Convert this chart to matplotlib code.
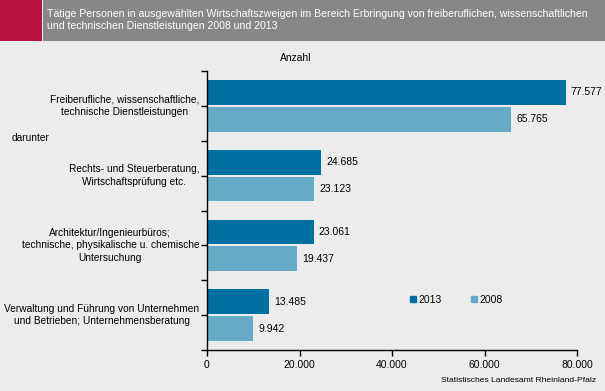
import matplotlib
matplotlib.use("Agg")
import matplotlib.pyplot as plt
from matplotlib.patches import Rectangle
from matplotlib.lines import Line2D

plt.rcParams['font.family'] = ['Liberation Sans', 'DejaVu Sans']

categories = [
    "Freiberufliche, wissenschaftliche,\ntechnische Dienstleistungen",
    "Rechts- und Steuerberatung,\nWirtschaftsprüfung etc.",
    "Architektur/Ingenieurbüros;\ntechnische, physikalische u. chemische\nUntersuchung",
    "Verwaltung und Führung von Unternehmen\nund Betrieben; Unternehmensberatung",
]
values_2013 = [77577, 24685, 23061, 13485]
values_2008 = [65765, 23123, 19437, 9942]
series_labels = ["2013", "2008"]
xticks = [0, 20000, 40000, 60000, 80000]
xtick_labels = ["0", "20.000", "40.000", "60.000", "80.000"]
title = ("Tätige Personen in ausgewählten Wirtschaftszweigen im Bereich Erbringung von freiberuflichen, wissenschaftlichen\n"
         "und technischen Dienstleistungen 2008 und 2013")
unit = "Anzahl"
source = "Statistisches Landesamt Rheinland-Pfalz"

c2013 = "#0070a2"
c2008 = "#67aac8"
bg = "#ececec"

W, H = 605, 391
fig = plt.figure(figsize=(W / 100, H / 100), dpi=100)
fig.patch.set_facecolor(bg)

# header band
fig.add_artist(Rectangle((0, 1 - 41 / H), 42 / W, 41 / H, transform=fig.transFigure,
                         facecolor="#b5123f", edgecolor="none"))
fig.add_artist(Rectangle((43 / W, 1 - 41 / H), 1 - 43 / W, 41 / H, transform=fig.transFigure,
                         facecolor="#878787", edgecolor="none"))
fig.text(47 / W, 1 - 20 / H, title, color="white", fontsize=7.6, ha="left", va="center",
         linespacing=1.25)

left, right = 207 / W, 577 / W
bottom, top = 1 - 350 / H, 1 - 71 / H
ax = fig.add_axes([left, bottom, right - left, top - bottom])
ax.set_facecolor("none")

fmt = lambda v: f"{v:,}".replace(",", ".")
bh = 0.71
off = 0.386
for i, (a, b) in enumerate(zip(values_2013, values_2008)):
    c = 2 * i + 1
    ax.barh(c - off, a, height=bh, color=c2013, edgecolor="none")
    ax.barh(c + off, b, height=bh, color=c2008, edgecolor="none")
    ax.text(a + 1100, c - off, fmt(a), va="center", ha="left", fontsize=7.5)
    ax.text(b + 1100, c + off, fmt(b), va="center", ha="left", fontsize=7.5)
    ax.text(-1700, c, categories[i], ha="right", va="center", multialignment="center",
            fontsize=7.3, linespacing=1.3)

ax.set_xlim(0, 80000)
ax.set_ylim(8, 0)
ax.set_xticks(xticks)
ax.set_xticklabels(xtick_labels, fontsize=7.5)
ax.set_yticks(range(0, 9))
ax.set_yticklabels([])
ax.tick_params(axis="both", direction="out", length=4, width=1, color="black", pad=3)
for s in ["top", "right"]:
    ax.spines[s].set_visible(False)
for s in ["left", "bottom"]:
    ax.spines[s].set_color("black")
    ax.spines[s].set_linewidth(1)

fig.text(12 / W, 1 - 138 / H, "darunter", fontsize=7.3, ha="left", va="center")
fig.text(296 / W, 1 - 58 / H, unit, fontsize=7.4, ha="center", va="center")
fig.text(596 / W, 1 - 381 / H, source, fontsize=6.1, ha="right", va="center")

handles = [Line2D([], [], marker="s", linestyle="none", markersize=4.5, color=c2013),
           Line2D([], [], marker="s", linestyle="none", markersize=4.5, color=c2008)]
ax.legend(handles, series_labels, ncol=2, frameon=False, fontsize=7.5,
          loc="center left", bbox_to_anchor=((408 - 207) / 370, (350 - 300) / 279),
          handletextpad=0.0, columnspacing=2.6, handlelength=1.0, borderaxespad=0, borderpad=0)

fig.savefig("out.png", dpi=100, facecolor=fig.get_facecolor())
